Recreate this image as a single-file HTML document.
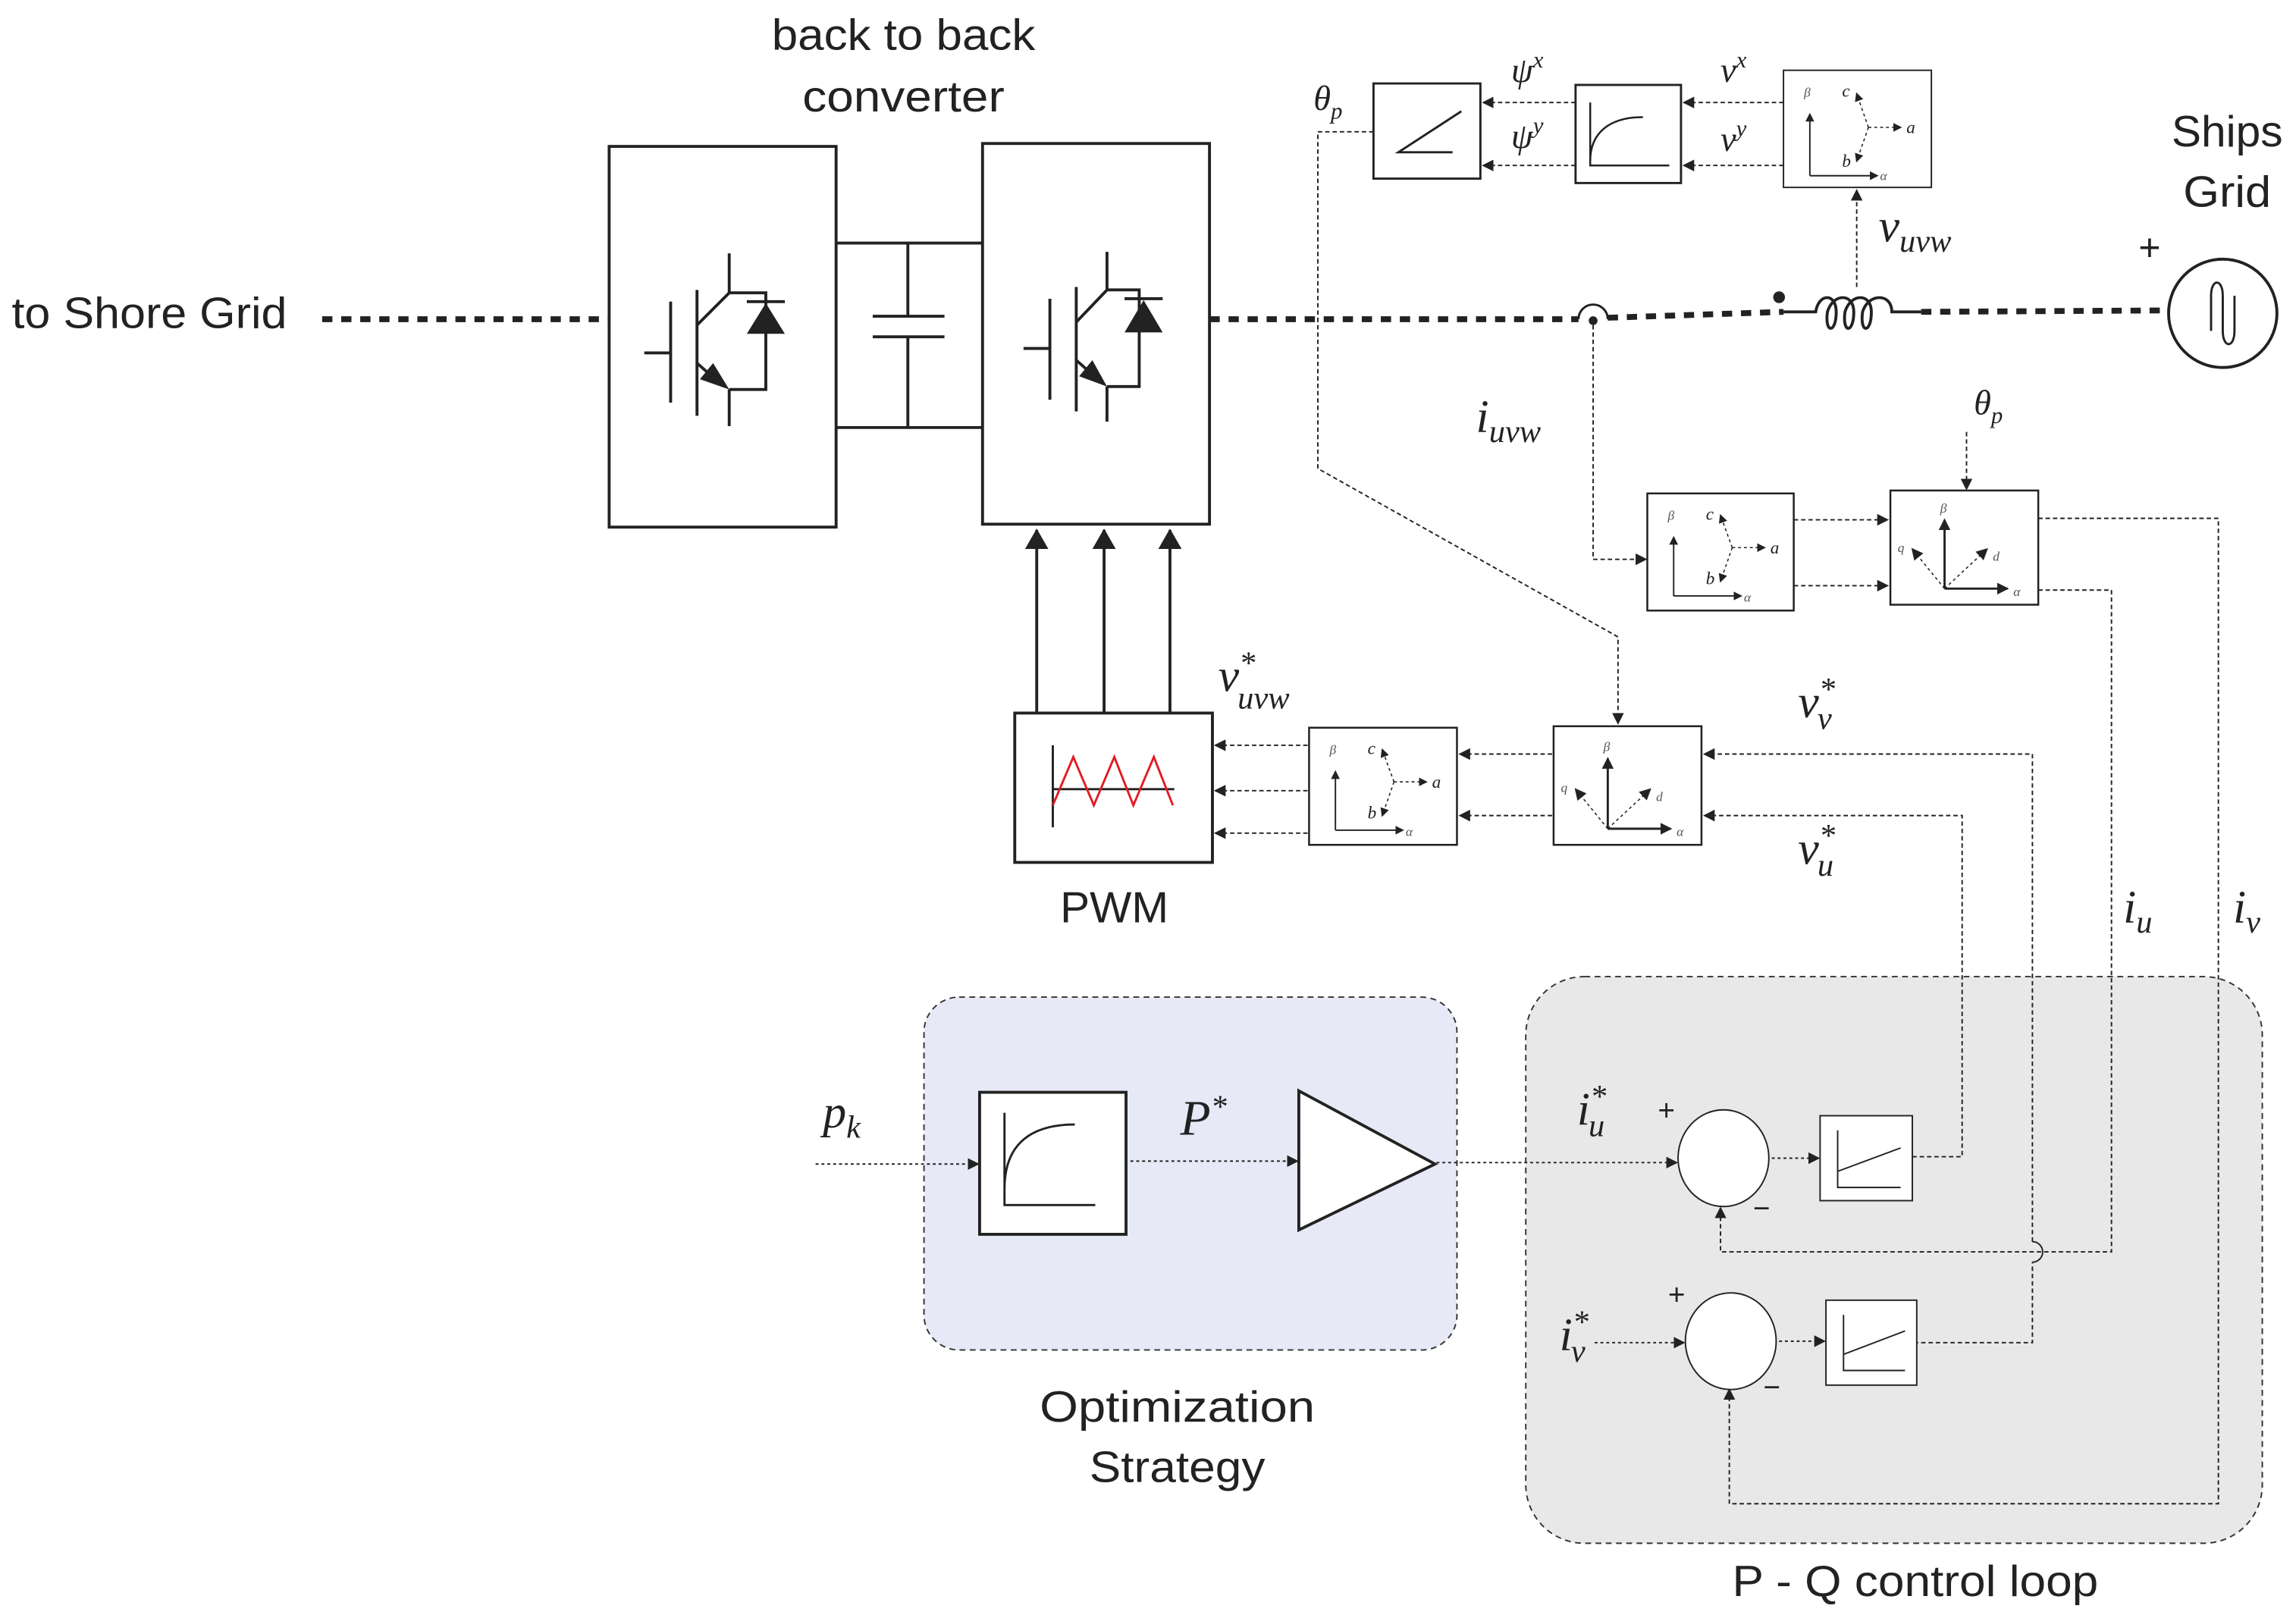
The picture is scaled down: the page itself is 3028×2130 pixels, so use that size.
<!DOCTYPE html>
<html><head><meta charset="utf-8"><style>
html,body{margin:0;padding:0;background:#fff}
svg{display:block}
.s{font-family:"Liberation Sans",sans-serif;fill:#222}
.m{font-family:"Liberation Serif",serif;font-style:italic;fill:#222}
.sm{font-family:"Liberation Serif",serif;font-style:italic;fill:#555}
</style></head><body>
<svg width="3028" height="2130" viewBox="0 0 1568 1103" xmlns="http://www.w3.org/2000/svg">
<defs>
<marker id="a" markerWidth="8" markerHeight="8" refX="7" refY="4" orient="auto" markerUnits="userSpaceOnUse"><path d="M0,0 L8,4 L0,8 z" fill="#222"/></marker>
<marker id="as" markerWidth="6" markerHeight="6" refX="5" refY="3" orient="auto" markerUnits="userSpaceOnUse"><path d="M0,0 L6,3 L0,6 z" fill="#222"/></marker>
<marker id="ab" markerWidth="14" markerHeight="16" refX="13" refY="8" orient="auto" markerUnits="userSpaceOnUse"><path d="M0,0 L14,8 L0,16 z" fill="#222"/></marker>
</defs>

<rect x="631" y="681" width="364" height="241" rx="24" fill="#e7e9f6" stroke="#333" stroke-width="1" stroke-dasharray="4,3"/>
<rect x="1042" y="667" width="503" height="387" rx="40" fill="#e8e8e8" stroke="#333" stroke-width="1" stroke-dasharray="4,3"/>

<text class="s" x="617" y="34" font-size="30" text-anchor="middle" textLength="180" lengthAdjust="spacingAndGlyphs">back to back</text>
<text class="s" x="617" y="76" font-size="30" text-anchor="middle" textLength="138" lengthAdjust="spacingAndGlyphs">converter</text>
<text class="s" x="8" y="224" font-size="30" textLength="188" lengthAdjust="spacingAndGlyphs">to Shore Grid</text>
<text class="s" x="1521" y="100" font-size="30" text-anchor="middle" textLength="76" lengthAdjust="spacingAndGlyphs">Ships</text>
<text class="s" x="1521" y="141" font-size="30" text-anchor="middle" textLength="60" lengthAdjust="spacingAndGlyphs">Grid</text>
<text class="s" x="1468" y="178" font-size="26" text-anchor="middle">+</text>
<text class="s" x="761" y="630" font-size="30" text-anchor="middle" textLength="74" lengthAdjust="spacingAndGlyphs">PWM</text>
<text class="s" x="804" y="971" font-size="30" text-anchor="middle" textLength="188" lengthAdjust="spacingAndGlyphs">Optimization</text>
<text class="s" x="804" y="1012" font-size="30" text-anchor="middle" textLength="120" lengthAdjust="spacingAndGlyphs">Strategy</text>
<text class="s" x="1308" y="1090" font-size="30" text-anchor="middle" textLength="250" lengthAdjust="spacingAndGlyphs">P - Q control loop</text>

<g stroke="#222" stroke-width="2" fill="none">
<rect x="416" y="100" width="155" height="260"/>
<rect x="671" y="98" width="155" height="260"/>
<line x1="571" y1="166" x2="671" y2="166"/>
<line x1="571" y1="292" x2="671" y2="292"/>
<line x1="620" y1="166" x2="620" y2="216"/>
<line x1="620" y1="230" x2="620" y2="292"/>
<line x1="596" y1="216" x2="645" y2="216"/>
<line x1="596" y1="230" x2="645" y2="230"/>
</g>
<g stroke="#222" stroke-width="2" fill="none">
<line x1="498" y1="173" x2="498" y2="200"/>
<polyline points="498,200 523,200 523,266 498,266"/>
<line x1="498" y1="266" x2="498" y2="291"/>
<line x1="458" y1="206" x2="458" y2="275"/>
<line x1="440" y1="241" x2="458" y2="241"/>
<line x1="476" y1="198" x2="476" y2="284"/>
<line x1="476" y1="222" x2="498" y2="200"/>
<line x1="476" y1="248" x2="493" y2="263"/>
<line x1="510" y1="206" x2="536" y2="206"/>
</g>
<path d="M523,207 L510,228 L536,228 z" fill="#222"/>
<path d="M498,266 L478,259 L487,248 z" fill="#222"/>
<g stroke="#222" stroke-width="2" fill="none">
<line x1="756" y1="172" x2="756" y2="198"/>
<polyline points="756,198 778,198 778,264 756,264"/>
<line x1="756" y1="264" x2="756" y2="288"/>
<line x1="717" y1="204" x2="717" y2="273"/>
<line x1="699" y1="238" x2="717" y2="238"/>
<line x1="735" y1="196" x2="735" y2="281"/>
<line x1="735" y1="220" x2="756" y2="198"/>
<line x1="735" y1="246" x2="752" y2="261"/>
</g>
<line x1="768" y1="204" x2="794" y2="204" stroke="#222" stroke-width="2"/>
<path d="M781,205 L768,227 L794,227 z" fill="#222"/>
<path d="M756,264 L737,257 L746,246 z" fill="#222"/>

<g stroke="#222" stroke-width="4" stroke-dasharray="7,6" fill="none">
<line x1="220" y1="218" x2="416" y2="218"/>
<line x1="826" y1="218" x2="1078" y2="218"/>
<line x1="1098" y1="217" x2="1218" y2="213"/>
<line x1="1312" y1="213" x2="1480" y2="212"/>
</g>
<path d="M1078,218 A10,10 0 0 1 1098,218" stroke="#222" stroke-width="1.5" fill="none"/>
<circle cx="1088" cy="219" r="3" fill="#222"/>
<circle cx="1215" cy="203" r="4" fill="#222"/>
<path d="M1218,213 L1240,213 C1242,200 1254,200 1254,213 C1254,228 1246,228 1248,213 C1252,200 1266,200 1266,213 C1266,228 1258,228 1260,213 C1264,200 1278,200 1278,213 C1278,228 1270,228 1272,213 C1276,200 1292,200 1292,213 L1312,213" stroke="#222" stroke-width="2" fill="none"/>
<circle cx="1518" cy="214" r="37" stroke="#222" stroke-width="2" fill="#fff"/>
<path d="M1510,226 L1510,202 C1510,190 1518,190 1518,202 L1518,226 C1518,238 1526,238 1526,226 L1526,202" stroke="#222" stroke-width="1.5" fill="none"/>

<rect x="693" y="487" width="135" height="102" stroke="#222" stroke-width="2" fill="#fff"/>
<line x1="719" y1="509" x2="719" y2="565" stroke="#222" stroke-width="1.5"/>
<line x1="719" y1="539" x2="802" y2="539" stroke="#222" stroke-width="1.5"/>
<polyline points="719,550 733,517 747,550 761,517 774,550 788,517 801,550" stroke="#e31b23" stroke-width="1.5" fill="none"/>
<g stroke="#222" stroke-width="2">
<line x1="708" y1="487" x2="708" y2="362" marker-end="url(#ab)"/>
<line x1="754" y1="487" x2="754" y2="362" marker-end="url(#ab)"/>
<line x1="799" y1="487" x2="799" y2="362" marker-end="url(#ab)"/>
</g>

<rect x="938" y="57" width="73" height="65" stroke="#222" stroke-width="1.5" fill="#fff"/>
<polyline points="998,76 955,104 992,104" stroke="#222" stroke-width="1.5" fill="none"/>
<rect x="1076" y="58" width="72" height="67" stroke="#222" stroke-width="1.5" fill="#fff"/>
<path d="M1086,70 L1086,113 L1140,113 M1086,110 C1086,90 1100,80 1122,80" stroke="#222" stroke-width="1.3" fill="none"/>

<g transform="translate(1218,48)">
<rect x="0" y="0" width="101" height="80" stroke="#222" stroke-width="1" fill="#fff"/>
<line x1="18" y1="72" x2="18" y2="30" stroke="#222" stroke-width="1" marker-end="url(#as)"/>
<line x1="18" y1="72" x2="64" y2="72" stroke="#222" stroke-width="1" marker-end="url(#as)"/>
<g stroke="#222" stroke-width="0.8" stroke-dasharray="2,2"><line x1="58" y1="39" x2="50" y2="16" marker-end="url(#as)"/><line x1="58" y1="39" x2="50" y2="62" marker-end="url(#as)"/><line x1="58" y1="39" x2="80" y2="39" marker-end="url(#as)"/></g>
<text class="sm" x="14" y="18" font-size="9">β</text><text class="sm" x="66" y="75" font-size="9">α</text>
<text class="m" x="40" y="18" font-size="12">c</text><text class="m" x="40" y="66" font-size="12">b</text><text class="m" x="84" y="43" font-size="12">a</text>
</g>
<g transform="translate(1125,337)">
<rect x="0" y="0" width="100" height="80" stroke="#222" stroke-width="1.3" fill="#fff"/>
<line x1="18" y1="70" x2="18" y2="30" stroke="#222" stroke-width="1" marker-end="url(#as)"/>
<line x1="18" y1="70" x2="64" y2="70" stroke="#222" stroke-width="1" marker-end="url(#as)"/>
<g stroke="#222" stroke-width="0.8" stroke-dasharray="2,2"><line x1="58" y1="37" x2="50" y2="15" marker-end="url(#as)"/><line x1="58" y1="37" x2="50" y2="60" marker-end="url(#as)"/><line x1="58" y1="37" x2="80" y2="37" marker-end="url(#as)"/></g>
<text class="sm" x="14" y="18" font-size="9">β</text><text class="sm" x="66" y="74" font-size="9">α</text>
<text class="m" x="40" y="18" font-size="12">c</text><text class="m" x="40" y="62" font-size="12">b</text><text class="m" x="84" y="41" font-size="12">a</text>
</g>
<g transform="translate(894,497)">
<rect x="0" y="0" width="101" height="80" stroke="#222" stroke-width="1.3" fill="#fff"/>
<line x1="18" y1="70" x2="18" y2="30" stroke="#222" stroke-width="1" marker-end="url(#as)"/>
<line x1="18" y1="70" x2="64" y2="70" stroke="#222" stroke-width="1" marker-end="url(#as)"/>
<g stroke="#222" stroke-width="0.8" stroke-dasharray="2,2"><line x1="58" y1="37" x2="50" y2="15" marker-end="url(#as)"/><line x1="58" y1="37" x2="50" y2="60" marker-end="url(#as)"/><line x1="58" y1="37" x2="80" y2="37" marker-end="url(#as)"/></g>
<text class="sm" x="14" y="18" font-size="9">β</text><text class="sm" x="66" y="74" font-size="9">α</text>
<text class="m" x="40" y="18" font-size="12">c</text><text class="m" x="40" y="62" font-size="12">b</text><text class="m" x="84" y="41" font-size="12">a</text>
</g>
<g transform="translate(1291,335)">
<rect x="0" y="0" width="101" height="78" stroke="#222" stroke-width="1.3" fill="#fff"/>
<line x1="37" y1="67" x2="37" y2="20" stroke="#222" stroke-width="1.5" marker-end="url(#a)"/>
<line x1="37" y1="67" x2="80" y2="67" stroke="#222" stroke-width="1.5" marker-end="url(#a)"/>
<g stroke="#222" stroke-width="0.8" stroke-dasharray="2,2"><line x1="37" y1="67" x2="15" y2="40" marker-end="url(#a)"/><line x1="37" y1="67" x2="66" y2="40" marker-end="url(#a)"/></g>
<text class="sm" x="34" y="15" font-size="9">β</text><text class="sm" x="84" y="72" font-size="9">α</text>
<text class="sm" x="5" y="42" font-size="9">q</text><text class="sm" x="70" y="48" font-size="9">d</text>
</g>
<g transform="translate(1061,496)">
<rect x="0" y="0" width="101" height="81" stroke="#222" stroke-width="1.3" fill="#fff"/>
<line x1="37" y1="70" x2="37" y2="22" stroke="#222" stroke-width="1.5" marker-end="url(#a)"/>
<line x1="37" y1="70" x2="80" y2="70" stroke="#222" stroke-width="1.5" marker-end="url(#a)"/>
<g stroke="#222" stroke-width="0.8" stroke-dasharray="2,2"><line x1="37" y1="70" x2="15" y2="43" marker-end="url(#a)"/><line x1="37" y1="70" x2="66" y2="43" marker-end="url(#a)"/></g>
<text class="sm" x="34" y="17" font-size="9">β</text><text class="sm" x="84" y="75" font-size="9">α</text>
<text class="sm" x="5" y="45" font-size="9">q</text><text class="sm" x="70" y="51" font-size="9">d</text>
</g>

<g stroke="#222" stroke-width="1" stroke-dasharray="3,2" fill="none">
<line x1="1218" y1="70" x2="1150" y2="70" marker-end="url(#a)"/>
<line x1="1218" y1="113" x2="1150" y2="113" marker-end="url(#a)"/>
<line x1="1076" y1="70" x2="1013" y2="70" marker-end="url(#a)"/>
<line x1="1076" y1="113" x2="1013" y2="113" marker-end="url(#a)"/>
<line x1="1268" y1="196" x2="1268" y2="130" marker-end="url(#a)"/>
<polyline points="938,90 900,90 900,320 1105,435 1105,494" marker-end="url(#a)"/>
<polyline points="1088,222 1088,382 1124,382" marker-end="url(#a)"/>
<line x1="1343" y1="295" x2="1343" y2="334" marker-end="url(#a)"/>
<line x1="1225" y1="355" x2="1289" y2="355" marker-end="url(#a)"/>
<line x1="1225" y1="400" x2="1289" y2="400" marker-end="url(#a)"/>
<polyline points="1392,354 1515,354 1515,1027 1181,1027 1181,949" marker-end="url(#a)"/>
<polyline points="1392,403 1442,403 1442,855 1175,855 1175,825" marker-end="url(#a)"/>
<line x1="893" y1="509" x2="830" y2="509" marker-end="url(#a)"/>
<line x1="893" y1="540" x2="830" y2="540" marker-end="url(#a)"/>
<line x1="893" y1="569" x2="830" y2="569" marker-end="url(#a)"/>
<line x1="1060" y1="515" x2="997" y2="515" marker-end="url(#a)"/>
<line x1="1060" y1="557" x2="997" y2="557" marker-end="url(#a)"/>
<polyline points="1307,917 1388,917 1388,862"/>
<polyline points="1388,848 1388,515 1164,515" marker-end="url(#a)"/>
<polyline points="1306,790 1340,790 1340,557 1164,557" marker-end="url(#a)"/>
</g>
<path d="M1388,848 A7,7 0 0 1 1388,862" stroke="#222" stroke-width="1" fill="none"/>

<rect x="669" y="746" width="100" height="97" stroke="#222" stroke-width="2" fill="#fff"/>
<path d="M686,760 L686,823 L748,823 M686,812 C686,785 700,768 734,768" stroke="#222" stroke-width="1.5" fill="none"/>
<path d="M887,745 L980,795 L887,840 z" stroke="#222" stroke-width="2" fill="#fff"/>
<g stroke="#222" stroke-width="1" stroke-dasharray="2,2" fill="none">
<line x1="557" y1="795" x2="668" y2="795" marker-end="url(#a)"/>
<line x1="772" y1="793" x2="886" y2="793" marker-end="url(#a)"/>
<line x1="981" y1="794" x2="1145" y2="794" marker-end="url(#a)"/>
<line x1="1089" y1="917" x2="1150" y2="917" marker-end="url(#a)"/>
<line x1="1210" y1="791" x2="1242" y2="791" marker-end="url(#a)"/>
<line x1="1215" y1="916" x2="1246" y2="916" marker-end="url(#a)"/>
</g>

<ellipse cx="1177" cy="791" rx="31" ry="33" stroke="#222" stroke-width="1" fill="#fff"/>
<ellipse cx="1182" cy="916" rx="31" ry="33" stroke="#222" stroke-width="1" fill="#fff"/>
<rect x="1243" y="762" width="63" height="58" stroke="#222" stroke-width="1" fill="#fff"/>
<path d="M1255,772 L1255,811 L1298,811 M1255,800 L1298,784" stroke="#222" stroke-width="1" fill="none"/>
<rect x="1247" y="888" width="62" height="58" stroke="#222" stroke-width="1" fill="#fff"/>
<path d="M1259,898 L1259,936 L1301,936 M1259,925 L1301,909" stroke="#222" stroke-width="1" fill="none"/>
<text class="s" x="1138" y="765" font-size="20" text-anchor="middle">+</text>
<text class="s" x="1203" y="832" font-size="20" text-anchor="middle">−</text>
<text class="s" x="1145" y="891" font-size="20" text-anchor="middle">+</text>
<text class="s" x="1210" y="954" font-size="20" text-anchor="middle">−</text>

<g class="m">
<text x="897" y="75" font-size="24">θ<tspan font-size="16" dy="6">p</tspan></text>
<text x="1032" y="56" font-size="24">ψ<tspan font-size="16" dy="-10">x</tspan></text>
<text x="1032" y="101" font-size="24">ψ<tspan font-size="16" dy="-10">y</tspan></text>
<text x="1175" y="56" font-size="24">v<tspan font-size="16" dy="-10">x</tspan></text>
<text x="1175" y="103" font-size="24">v<tspan font-size="16" dy="-10">y</tspan></text>
<text x="1283" y="165" font-size="32">v<tspan font-size="22" dy="7">uvw</tspan></text>
<text x="1008" y="295" font-size="32">i<tspan font-size="22" dy="7">uvw</tspan></text>
<text x="1348" y="283" font-size="24">θ<tspan font-size="16" dy="6">p</tspan></text>
<text x="832" y="472" font-size="32">v<tspan font-size="22" dy="-12">*</tspan><tspan font-size="22" dx="-12" dy="24">uvw</tspan></text>
<text x="1228" y="490" font-size="32">v<tspan font-size="22" dy="-12">*</tspan><tspan font-size="22" dx="-12" dy="20">v</tspan></text>
<text x="1228" y="590" font-size="32">v<tspan font-size="22" dy="-12">*</tspan><tspan font-size="22" dx="-12" dy="20">u</tspan></text>
<text x="1450" y="630" font-size="32">i<tspan font-size="22" dy="7">u</tspan></text>
<text x="1525" y="630" font-size="32">i<tspan font-size="22" dy="7">v</tspan></text>
<text x="562" y="770" font-size="32">p<tspan font-size="22" dy="7">k</tspan></text>
<text x="806" y="775" font-size="34">P<tspan font-size="22" dy="-12">*</tspan></text>
<text x="1077" y="768" font-size="32">i<tspan font-size="22" dy="-12">*</tspan><tspan font-size="22" dx="-12" dy="20">u</tspan></text>
<text x="1065" y="922" font-size="32">i<tspan font-size="22" dy="-12">*</tspan><tspan font-size="22" dx="-12" dy="20">v</tspan></text>
</g>
</svg>
</body></html>
